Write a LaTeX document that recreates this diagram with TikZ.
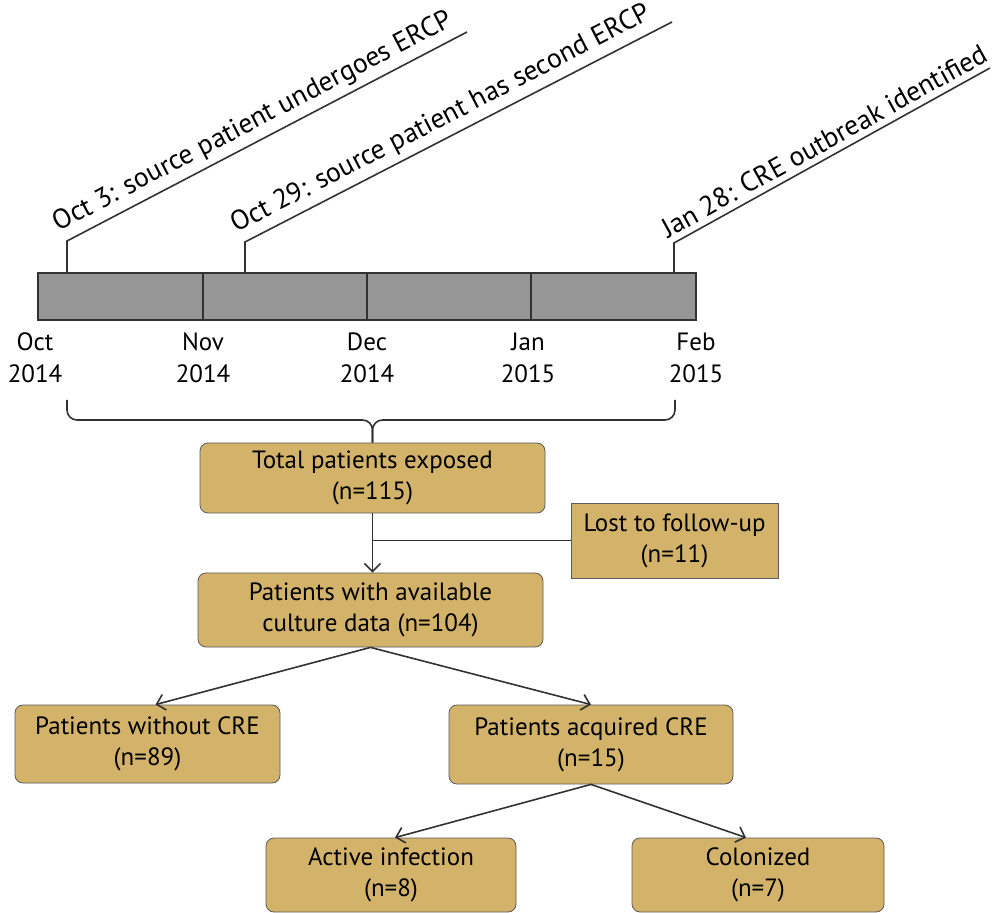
\documentclass[tikz,border=0pt]{standalone}
\usepackage{fontspec}
\setmainfont{PT Sans}
\usetikzlibrary{arrows.meta,positioning}
\definecolor{BoxTan}{RGB}{211,179,106}
\definecolor{BarGray}{RGB}{150,150,150}
\definecolor{LineGray}{RGB}{50,50,50}

\begin{document}
\begin{tikzpicture}[x=0.5pt, y=-0.5pt, font=\fontsize{12.5}{15.5}\selectfont,
  flowbox/.style={draw=LineGray!80, fill=BoxTan, rounded corners=4pt, align=center, inner sep=0pt},
  lostbox/.style={flowbox, rounded corners=0pt},
  monthlbl/.style={align=center, inner sep=0pt, font=\fontsize{12.5}{16}\selectfont},
  eventlbl/.style={anchor=south west, inner xsep=0pt, inner ysep=2pt, font=\fontsize{13.8}{16}\selectfont},
  conn/.style={draw=LineGray, line width=0.8pt},
  arr/.style={conn, -{Straight Barb[length=4pt, width=8pt]}}]
  \useasboundingbox (0,0) rectangle (995,913);

  % Timeline bar, one cell per month
  \foreach \a/\b in {38/203, 203/367, 367/531, 531/696}
    \draw[fill=BarGray, draw=LineGray, line width=0.8pt] (\a,273) rectangle (\b,320);

  % Month labels below the bar
  \foreach \x/\m/\yr in {35/Oct/2014, 203/Nov/2014, 367/Dec/2014, 528/Jan/2015, 696/Feb/2015}
    \node[monthlbl] (m\m) at (\x,358) {\m\\\yr};

  % Events: tick up from the bar, then a slanted leader carrying the text
  \coordinate (ev1) at (67,273);
  \coordinate (ev1k) at (67,241);
  \coordinate (ev1e) at (467,32);
  \coordinate (ev2) at (245,273);
  \coordinate (ev2k) at (245,242);
  \coordinate (ev2e) at (672,22);
  \coordinate (ev3) at (674,273);
  \coordinate (ev3k) at (674,243);
  \coordinate (ev3e) at (990,68);
  \draw[conn] (ev1) -- (ev1k) -- (ev1e);
  \draw[conn] (ev2) -- (ev2k) -- (ev2e);
  \draw[conn] (ev3) -- (ev3k) -- (ev3e);
  \node[eventlbl, rotate=27.6] (e1) at ([xshift=-2pt]ev1k) {Oct 3: source patient undergoes ERCP};
  \node[eventlbl, rotate=27.3] (e2) at ([xshift=-2pt]ev2k) {Oct 29: source patient has second ERCP};
  \node[eventlbl, rotate=29] (e3) at ([xshift=-2pt]ev3k) {Jan 28: CRE outbreak identified};

  % Flow boxes
  \node[flowbox, minimum width=172.5pt, minimum height=35pt] (tot) at (372.5,478) {Total patients exposed\\(n=115)};
  \node[lostbox, minimum width=103.5pt, minimum height=37.5pt] (lost) at (674.5,540.5) {Lost to follow-up\\(n=11)};
  \node[flowbox, minimum width=172.5pt, minimum height=37pt] (avail) at (370.5,610) {Patients with available\\culture data (n=104)};
  \node[flowbox, minimum width=132.5pt, minimum height=39pt] (nocre) at (147.5,744) {Patients without CRE\\(n=89)};
  \node[flowbox, minimum width=142pt, minimum height=39.5pt] (acq) at (591,744.5) {Patients acquired CRE\\(n=15)};
  \node[flowbox, minimum width=125pt, minimum height=37pt] (act) at (391,875) {Active infection\\(n=8)};
  \node[flowbox, minimum width=126pt, minimum height=37pt] (col) at (758,875) {Colonized\\(n=7)};

  % Brace gathering the exposure window
  \coordinate (bmid) at (372.5,420);
  \draw[conn, rounded corners=5pt] (67,400) |- (bmid) -- (tot.north);
  \draw[conn, rounded corners=5pt] (675,400) |- (bmid) -- (tot.north);

  % Connectors
  \draw[arr] (tot.south) -- (tot.south |- avail.north);
  \draw[conn] (tot.south |- lost.west) -- (lost.west);
  \draw[arr] (avail.south) -- ([xshift=4pt]nocre.north);
  \draw[arr] (avail.south) -- (acq.north);
  \draw[arr] (acq.south) -- ([xshift=2pt]act.north);
  \draw[arr] (acq.south) -- ([xshift=-6pt]col.north);
\end{tikzpicture}
\end{document}
